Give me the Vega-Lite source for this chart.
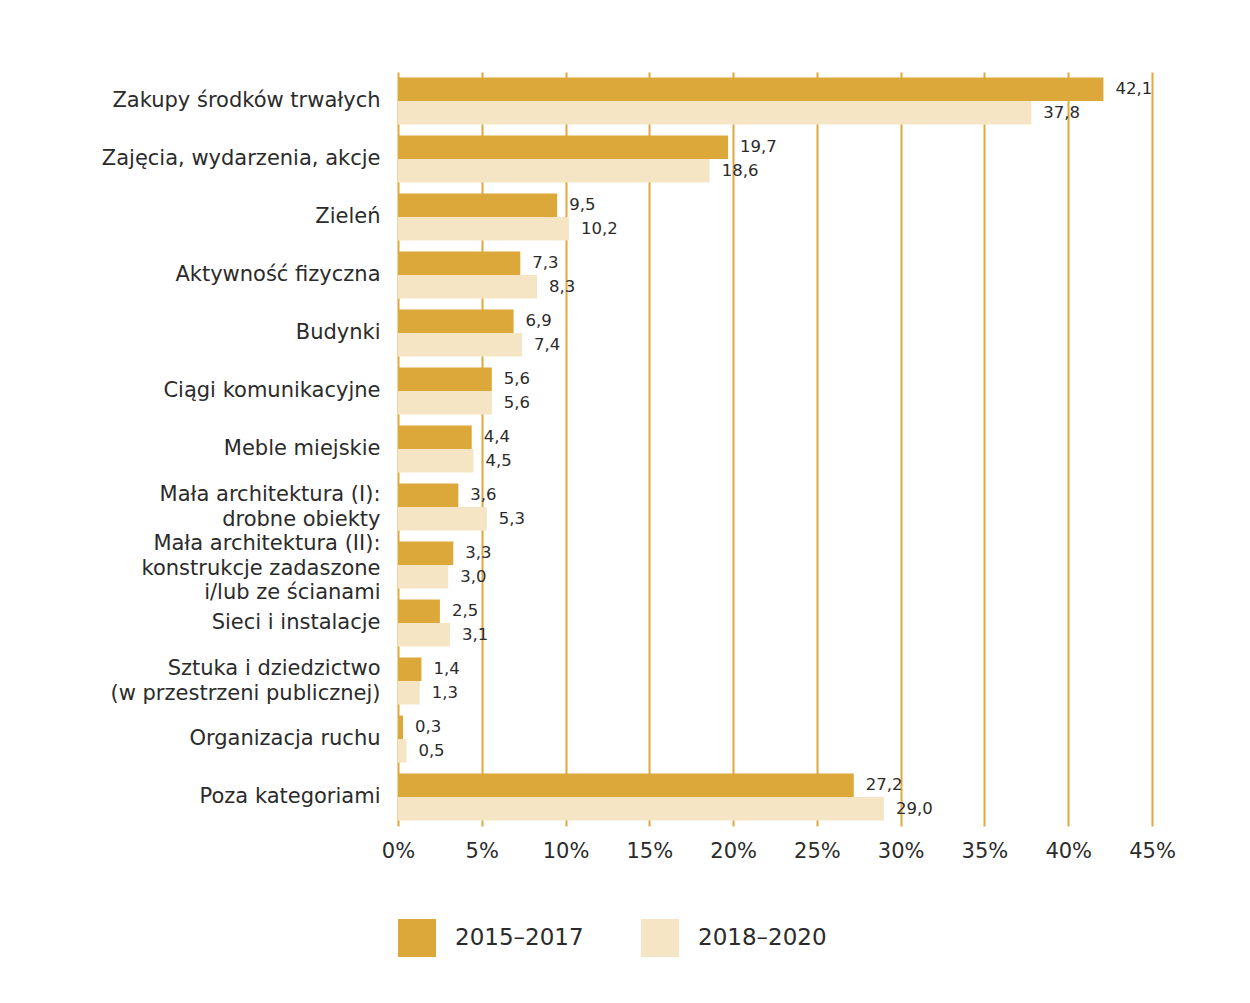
{
  "$schema": "https://vega.github.io/schema/vega-lite/v6.json",
  "width": 754,
  "height": 754,
  "autosize": {"type": "none"},
  "padding": {"left": 398, "top": 72, "right": 98, "bottom": 177},
  "background": "white",
  "config": {
    "font": "DejaVu Sans",
    "view": {"stroke": null},
    "locale": {"number": {"decimal": ",", "thousands": " ", "grouping": [3], "currency": ["", " zł"]}}
  },
  "data": {
    "values": [
      {"kat": "Zakupy środków trwałych", "okres": "2015–2017", "v": 42.1},
      {"kat": "Zakupy środków trwałych", "okres": "2018–2020", "v": 37.8},
      {"kat": "Zajęcia, wydarzenia, akcje", "okres": "2015–2017", "v": 19.7},
      {"kat": "Zajęcia, wydarzenia, akcje", "okres": "2018–2020", "v": 18.6},
      {"kat": "Zieleń", "okres": "2015–2017", "v": 9.5},
      {"kat": "Zieleń", "okres": "2018–2020", "v": 10.2},
      {"kat": "Aktywność fizyczna", "okres": "2015–2017", "v": 7.3},
      {"kat": "Aktywność fizyczna", "okres": "2018–2020", "v": 8.3},
      {"kat": "Budynki", "okres": "2015–2017", "v": 6.9},
      {"kat": "Budynki", "okres": "2018–2020", "v": 7.4},
      {"kat": "Ciągi komunikacyjne", "okres": "2015–2017", "v": 5.6},
      {"kat": "Ciągi komunikacyjne", "okres": "2018–2020", "v": 5.6},
      {"kat": "Meble miejskie", "okres": "2015–2017", "v": 4.4},
      {"kat": "Meble miejskie", "okres": "2018–2020", "v": 4.5},
      {"kat": "Mała architektura (I):|drobne obiekty", "okres": "2015–2017", "v": 3.6},
      {"kat": "Mała architektura (I):|drobne obiekty", "okres": "2018–2020", "v": 5.3},
      {"kat": "Mała architektura (II):|konstrukcje zadaszone|i/lub ze ścianami", "okres": "2015–2017", "v": 3.3},
      {"kat": "Mała architektura (II):|konstrukcje zadaszone|i/lub ze ścianami", "okres": "2018–2020", "v": 3.0},
      {"kat": "Sieci i instalacje", "okres": "2015–2017", "v": 2.5},
      {"kat": "Sieci i instalacje", "okres": "2018–2020", "v": 3.1},
      {"kat": "Sztuka i dziedzictwo|(w przestrzeni publicznej)", "okres": "2015–2017", "v": 1.4},
      {"kat": "Sztuka i dziedzictwo|(w przestrzeni publicznej)", "okres": "2018–2020", "v": 1.3},
      {"kat": "Organizacja ruchu", "okres": "2015–2017", "v": 0.3},
      {"kat": "Organizacja ruchu", "okres": "2018–2020", "v": 0.5},
      {"kat": "Poza kategoriami", "okres": "2015–2017", "v": 27.2},
      {"kat": "Poza kategoriami", "okres": "2018–2020", "v": 29.0}
    ]
  },
  "encoding": {
    "y": {
      "field": "kat", "type": "nominal", "sort": null, "title": null,
      "scale": {"paddingInner": 0.19, "paddingOuter": 0.095},
      "axis": {
        "labelExpr": "split(datum.label, '|')",
        "labelFontSize": 21, "labelColor": "#2b2b2b", "labelPadding": 18,
        "labelLineHeight": 24.5, "labelLimit": 400,
        "labelOffset": {
          "condition": [
            {"test": "length(split(datum.value, '|')) == 3", "value": -21},
            {"test": "length(split(datum.value, '|')) == 2", "value": -12}
          ],
          "value": 0
        },
        "ticks": false, "domain": false, "grid": false
      }
    },
    "yOffset": {"field": "okres", "type": "nominal", "scale": {"paddingInner": 0, "paddingOuter": 0}},
    "x": {
      "field": "v", "type": "quantitative", "title": null,
      "scale": {"domain": [0, 45], "nice": false},
      "axis": {
        "values": [0, 5, 10, 15, 20, 25, 30, 35, 40, 45],
        "labelExpr": "datum.value + '%'",
        "labelFontSize": 21, "labelColor": "#2b2b2b", "labelPadding": 14,
        "labelFlush": false, "labelOverlap": false,
        "ticks": false, "domain": false,
        "grid": true, "gridColor": "#E2A83A", "gridWidth": 2, "gridOpacity": 1
      }
    }
  },
  "layer": [
    {
      "mark": {"type": "bar"},
      "encoding": {
        "color": {
          "field": "okres", "type": "nominal", "title": null,
          "scale": {"domain": ["2015–2017", "2018–2020"], "range": ["#DDA83A", "#F5E5C5"]},
          "legend": {
            "orient": "bottom", "direction": "horizontal",
            "symbolType": "square", "symbolSize": 1444, "symbolStrokeWidth": 0,
            "labelFontSize": 23, "labelColor": "#2b2b2b", "labelOffset": 19,
            "columnPadding": 57, "offset": 58, "padding": 0
          }
        }
      }
    },
    {
      "mark": {"type": "text", "align": "left", "baseline": "middle", "dx": 12, "fontSize": 16.5, "color": "#2b2b2b"},
      "encoding": {
        "text": {"field": "v", "type": "quantitative", "format": ".1f"}
      }
    }
  ]
}
